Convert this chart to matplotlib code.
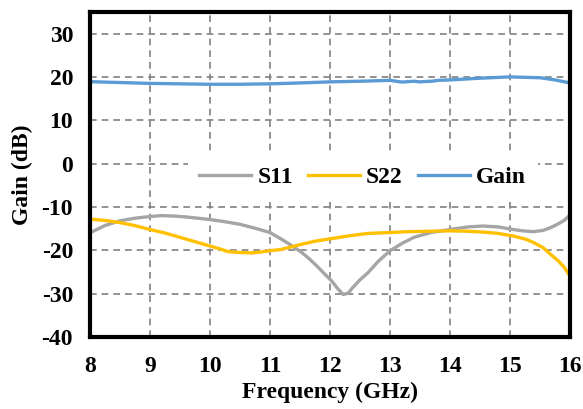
import numpy as np
import matplotlib.pyplot as plt

plt.rcParams['font.family'] = ['Liberation Serif', 'DejaVu Serif']
plt.rcParams['font.weight'] = 'bold'
plt.rcParams['axes.unicode_minus'] = False

# Measured curves (frequency in GHz, values in dB)
freq_s11 = [8.0, 8.25, 8.5, 8.75, 9.0, 9.2, 9.4, 9.6, 9.8, 10.0, 10.25, 10.5, 10.75, 11.0,
            11.2, 11.35, 11.53, 11.65, 11.78, 11.9, 12.03, 12.12, 12.22, 12.3, 12.38, 12.5,
            12.63, 12.8, 13.0, 13.2, 13.4, 13.68, 14.0, 14.3, 14.55, 14.8, 15.05, 15.2,
            15.39, 15.55, 15.67, 15.8, 15.9, 16.0]
s11 = [-16.0, -14.3, -13.2, -12.6, -12.2, -12.0, -12.1, -12.3, -12.6, -12.9, -13.4, -14.0,
       -14.9, -15.9, -17.5, -18.8, -20.5, -21.9, -23.6, -25.3, -27.1, -28.7, -30.2, -29.9,
       -28.6, -26.8, -25.2, -22.6, -20.1, -18.4, -17.0, -15.9, -15.2, -14.6, -14.4, -14.6,
       -15.2, -15.5, -15.7, -15.4, -14.8, -13.9, -13.1, -11.8]

freq_s22 = [8.0, 8.25, 8.5, 8.75, 9.0, 9.25, 9.5, 9.75, 10.0, 10.15, 10.3, 10.5, 10.7, 10.85,
            11.0, 11.19, 11.5, 11.75, 12.03, 12.3, 12.63, 13.0, 13.3, 13.68, 14.0, 14.3,
            14.55, 14.8, 15.05, 15.25, 15.39, 15.55, 15.67, 15.8, 15.9, 16.0]
s22 = [-12.8, -13.1, -13.6, -14.3, -15.2, -16.0, -17.0, -18.0, -19.0, -19.6, -20.3, -20.5,
       -20.6, -20.4, -20.1, -19.8, -18.7, -17.9, -17.3, -16.7, -16.1, -15.9, -15.7, -15.6,
       -15.5, -15.6, -15.8, -16.1, -16.7, -17.4, -18.2, -19.4, -20.9, -22.4, -23.9, -26.0]

freq_gain = [8.0, 8.5, 9.0, 9.5, 10.0, 10.5, 11.0, 11.5, 12.0, 12.5, 13.0, 13.1, 13.2, 13.3,
             13.4, 13.5, 13.6, 13.7, 13.8, 14.0, 14.5, 15.0, 15.5, 15.75, 16.0]
gain = [18.9, 18.7, 18.5, 18.4, 18.3, 18.3, 18.4, 18.6, 18.85, 19.0, 19.2, 19.0, 18.8, 18.9,
        19.0, 18.85, 18.95, 19.0, 19.2, 19.3, 19.7, 20.0, 19.8, 19.3, 18.6]

x_ticks = np.arange(8, 17, 1)
y_ticks = np.arange(-40, 31, 10)

fig = plt.figure(figsize=(5.83, 4.09), dpi=100)
ax = fig.add_axes([0.154, 0.176, 0.824, 0.795])

ax.plot(freq_s11, s11, color='#A5A5A5', lw=2.4, label='S11')
ax.plot(freq_s22, s22, color='#FFC000', lw=2.4, label='S22')
ax.plot(freq_gain, gain, color='#5B9BD5', lw=2.4, label='Gain')

ax.set_xlim(8, 16)
ax.set_ylim(-40, 35)
ax.set_xticks(x_ticks)
ax.set_yticks(y_ticks)
ax.tick_params(axis='x', length=0, labelsize=17, pad=14)
ax.tick_params(axis='y', length=0, labelsize=17, pad=12)
for lab in ax.get_xticklabels() + ax.get_yticklabels():
    lab.set_fontweight('bold')

ax.grid(True, color='#808080', linestyle=(0, (4, 3)), lw=1.2)
ax.set_axisbelow(True)
for sp in ax.spines.values():
    sp.set_linewidth(3)
    sp.set_color('black')

ax.set_xlabel('Frequency (GHz)', fontsize=17, fontweight='bold', labelpad=3)
ax.set_ylabel('Gain (dB)', fontsize=17, fontweight='bold', labelpad=6)

leg = ax.legend(loc='center', bbox_to_anchor=(0.568, 0.49), ncol=3, frameon=True,
                fontsize=17, handlelength=2.2, columnspacing=0.65, handletextpad=0.25,
                borderpad=0.5, borderaxespad=0)
leg.get_frame().set_edgecolor('none')
leg.get_frame().set_facecolor('white')
leg.get_frame().set_alpha(1)
for t in leg.get_texts():
    t.set_fontweight('bold')

fig.savefig('out.png', dpi=100)
